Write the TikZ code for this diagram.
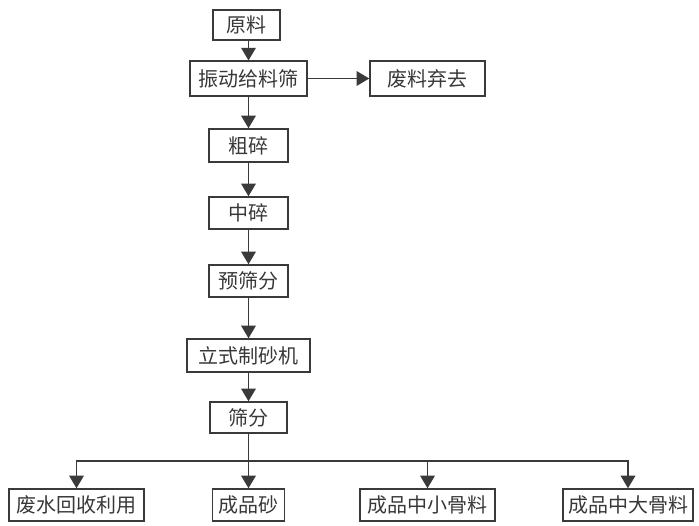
\documentclass[tikz,border=0pt]{standalone}
\usepackage{fontspec}
\setmainfont{Noto Sans CJK SC}
\usetikzlibrary{arrows.meta}
\definecolor{ln}{HTML}{3A3A3A}
\definecolor{tx}{HTML}{383838}
\tikzset{
  box/.style={draw=ln, line width=1.1pt, rectangle, inner sep=0pt, minimum height=24pt, text=tx, font=\fontsize{15pt}{17pt}\selectfont},
  conn/.style={draw=ln, line width=1.1pt, -{Triangle[width=11pt,length=9.5pt]}},
  plain/.style={draw=ln, line width=1.1pt}
}
\begin{document}
\begin{tikzpicture}[x=0.75pt,y=-0.75pt]
\useasboundingbox (0,0) rectangle (699,525);
\node[box, minimum width=50pt, minimum height=22.5pt] (yl) at (246.5,25) {原料};
\node[box, minimum width=87.75pt, minimum height=26pt] (zd) at (248.5,78.5) {振动给料筛};
\node[box, minimum width=86.25pt, minimum height=26pt] (fl) at (427.5,78.5) {废料弃去};
\node[box, minimum width=59.25pt, minimum height=24.75pt] (cs) at (248.5,145.5) {粗碎};
\node[box, minimum width=59.25pt] (zs) at (248.5,213) {中碎};
\node[box, minimum width=59.25pt] (ysf) at (248.5,281) {预筛分};
\node[box, minimum width=92.25pt, minimum height=24.75pt] (ls) at (248.5,355.5) {立式制砂机};
\node[box, minimum width=57.75pt, minimum height=23.25pt] (sf) at (248.5,417.5) {筛分};
\node[box, minimum width=101.25pt] (fs) at (76.5,505) {废水回收利用};
\node[box, minimum width=54pt] (cps) at (248.5,505) {成品砂};
\node[box, minimum width=101.25pt] (zx) at (427.5,505) {成品中小骨料};
\node[box, minimum width=97.5pt] (zdg) at (628,505) {成品中大骨料};
\coordinate (h) at (248.5,461);
\draw[conn] (yl.south -| zd.north) -- (zd.north);
\draw[conn] (zd) -- (fl);
\draw[conn] (zd) -- (cs);
\draw[conn] (cs) -- (zs);
\draw[conn] (zs) -- (ysf);
\draw[conn] (ysf) -- (ls);
\draw[conn] (ls) -- (sf);
\draw[plain] (sf.south) -- (h);
\draw[conn] (h) -| (fs.north);
\draw[conn] (h) -- (cps.north);
\draw[conn] (h) -| (zx.north);
\draw[conn] (h) -| (zdg.north);
\end{tikzpicture}
\end{document}
